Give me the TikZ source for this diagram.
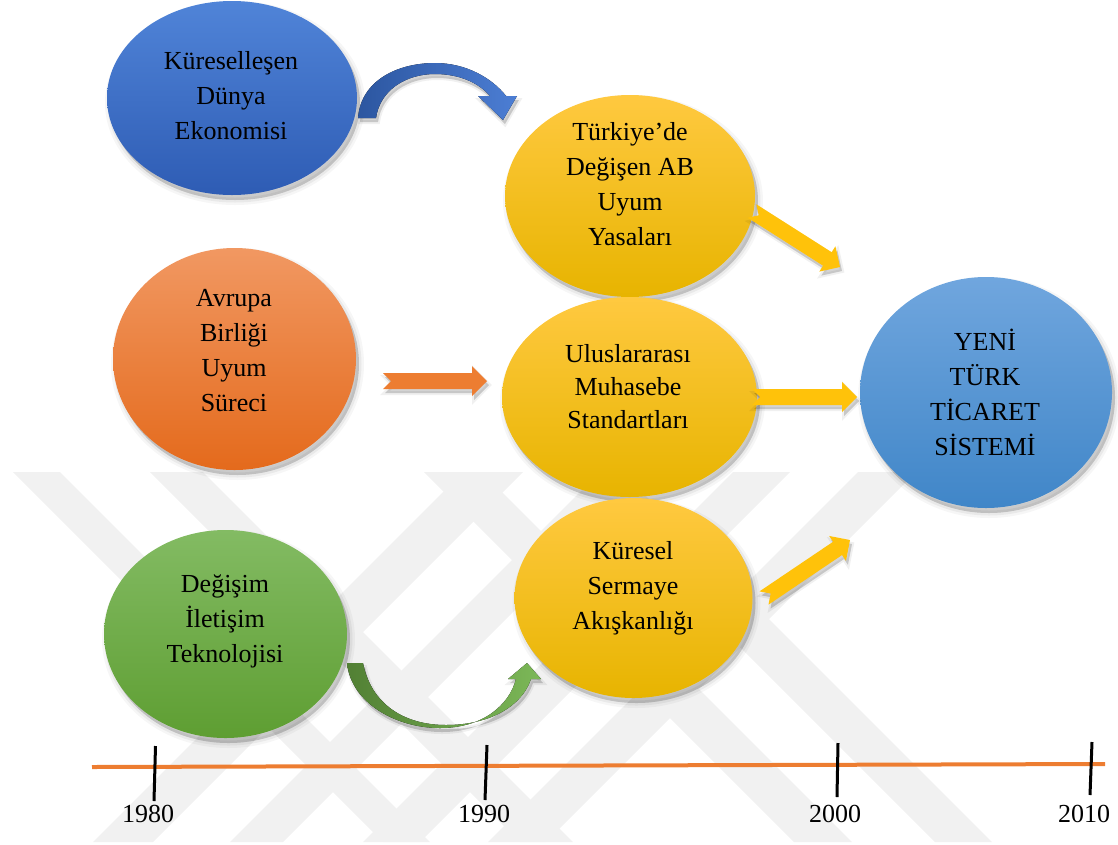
\documentclass[tikz,border=0pt]{standalone}
\usepackage{fontspec}
\setmainfont{Liberation Serif}
\usetikzlibrary{calc,shapes.geometric}

% fills
\definecolor{blueTop}{RGB}{80,132,216}
\definecolor{blueBot}{RGB}{46,92,180}
\definecolor{orangeTop}{RGB}{241,152,98}
\definecolor{orangeBot}{RGB}{228,106,28}
\definecolor{greenTop}{RGB}{131,187,99}
\definecolor{greenBot}{RGB}{94,158,50}
\definecolor{goldTop}{RGB}{255,201,64}
\definecolor{goldMid}{RGB}{255,192,0}
\definecolor{goldBot}{RGB}{231,180,0}
\definecolor{skyTop}{RGB}{112,166,222}
\definecolor{skyBot}{RGB}{64,134,200}
\definecolor{arrowOrange}{RGB}{237,125,49}
\definecolor{arrowGold}{RGB}{255,194,10}
\definecolor{curveBlueA}{RGB}{44,86,160}
\definecolor{curveBlueB}{RGB}{76,126,212}
\definecolor{curveGreenA}{RGB}{82,128,52}
\definecolor{curveGreenB}{RGB}{124,184,88}
\definecolor{axisOrange}{RGB}{237,125,49}
\definecolor{markGray}{RGB}{241,241,241}

% notched block arrow from #1 to #2, drawn with style #3
\newcommand\notcharrow[3]{%
  \path ($(#2)!15pt!(#1)$) coordinate (nb);
  \fill[#3] ($(#1)!8pt!90:(#2)$) -- ($(nb)!8pt!-90:(#1)$) -- ($(nb)!15pt!-90:(#1)$)
     -- (#2) -- ($(nb)!15pt!90:(#1)$) -- ($(nb)!8pt!90:(#1)$)
     -- ($(#1)!8pt!-90:(#2)$) -- ($(#1)!8pt!(#2)$) -- cycle;
}
% background stripe running down-right / down-left
\newcommand\stripeR[2]{\fill[markGray] ({472+(#1)},472) -- ({472+(#2)},472) -- ({842+(#2)},842) -- ({842+(#1)},842) -- cycle;}
\newcommand\stripeL[2]{\fill[markGray] ({(#1)-472},472) -- ({(#2)-472},472) -- ({(#2)-842},842) -- ({(#1)-842},842) -- cycle;}

\begin{document}
\begin{tikzpicture}[x=1pt,y=-1pt,
  softshadow/.style={
    preaction={fill=black,draw=black,line width=10pt,opacity=0.035,transform canvas={xshift=3pt,yshift=-5pt}},
    preaction={fill=black,draw=black,line width=5pt,opacity=0.05,transform canvas={xshift=3pt,yshift=-5pt}},
    preaction={fill=black,opacity=0.10,transform canvas={xshift=3pt,yshift=-5pt}}},
  arrowshadow/.style={
    preaction={fill=black,draw=black,line width=4pt,opacity=0.06,transform canvas={xshift=2pt,yshift=-4pt}},
    preaction={fill=black,opacity=0.12,transform canvas={xshift=2pt,yshift=-4pt}}},
  bubble/.style 2 args={ellipse,inner sep=0pt,minimum width=#1,minimum height=#2,softshadow},
  bluebub/.style={top color=blueTop,bottom color=blueBot},
  orangebub/.style={top color=orangeTop,bottom color=orangeBot},
  greenbub/.style={top color=greenTop,bottom color=greenBot},
  goldbub/.style={top color=goldTop,middle color=goldMid,bottom color=goldBot},
  skybub/.style={top color=skyTop,bottom color=skyBot},
  label/.style={align=center,inner sep=0pt,font=\fontsize{26}{35}\selectfont},
  year/.style={inner sep=0pt,font=\fontsize{26}{30}\selectfont},
  tick/.style={line width=3pt,black},
  orangearrow/.style={fill=arrowOrange,arrowshadow},
  goldarrow/.style={fill=arrowGold,arrowshadow}]

\useasboundingbox (0,0) rectangle (1118,844);

% faint background mark
\stripeR{-459}{-412}
\stripeR{-322}{-269}
\stripeR{-48}{10}
\stripeR{93}{150}
\stripeL{935}{995}
\stripeL{1072}{1125}
\stripeL{1205}{1262}
\stripeL{1330}{1388}

% bubbles
\node[bubble={250}{194},bluebub]   (world)  at (232,98)    {};
\node[bubble={243}{222},orangebub] (eu)     at (234.5,359) {};
\node[bubble={243}{208},greenbub]  (comm)   at (225.5,634) {};
\node[bubble={250}{202},goldbub]   (laws)   at (630,196)   {};
\node[bubble={255}{200},goldbub]   (ias)    at (629.5,397) {};
\node[bubble={238}{200},goldbub]   (capital) at (633.5,598) {};
\node[bubble={252}{231},skybub]    (system) at (986,392.5) {};

% bubble texts
\node[label] (tworld)   at (231,96)  {Küreselleşen\\Dünya\\Ekonomisi};
\node[label] (teu)      at (234,351) {Avrupa\\Birliği\\Uyum\\Süreci};
\node[label] (tcomm)    at (225,621) {Değişim\\İletişim\\Teknolojisi};
\node[label] (tlaws)    at (630,184) {Türkiye’de\\Değişen AB\\Uyum\\Yasaları};
\node[label,font=\fontsize{26}{33}\selectfont] (tias) at (628,387) {Uluslararası\\Muhasebe\\Standartları};
\node[label] (tcapital) at (633,588) {Küresel\\Sermaye\\Akışkanlığı};
\node[label] (tsystem)  at (985,392) {YENİ\\TÜRK\\TİCARET\\SİSTEMİ};

% curved arrows
\fill[left color=curveBlueA,right color=curveBlueB,arrowshadow]
  (358,118) .. controls (361,80) and (398,63) .. (435,63)
  .. controls (466,63) and (492,78) .. (506,96)
  -- (517,96) -- (503,120) -- (478,96) -- (490,96)
  .. controls (478,82) and (458,74) .. (435,74)
  .. controls (406,74) and (380,90) .. (376,118) -- cycle;

\fill[left color=curveGreenA,right color=curveGreenB,arrowshadow]
  (347,663) .. controls (351,703) and (396,728) .. (440,728)
  .. controls (482,728) and (509,706) .. (516,679)
  -- (508,679) -- (527,663) -- (541,679) -- (531,679)
  .. controls (522,706) and (490,725) .. (446,725)
  .. controls (404,725) and (371,704) .. (363,663) -- cycle;

% straight block arrows
\coordinate (o1) at (383,381);  \coordinate (o2) at (487,381);
\coordinate (g1) at (752,211);  \coordinate (g2) at (840,267);
\coordinate (h1) at (752,397);  \coordinate (h2) at (857,397);
\coordinate (k1) at (764,598);  \coordinate (k2) at (850,540);
\notcharrow{o1}{o2}{orangearrow}
\notcharrow{g1}{g2}{goldarrow}
\notcharrow{h1}{h2}{goldarrow}
\notcharrow{k1}{k2}{goldarrow}

% time axis
\coordinate (axisL) at (92,767);
\coordinate (axisR) at (1105,764);
\draw[axisOrange,line width=4pt] (axisL) -- (axisR);
\draw[tick] (155.5,746) -- (154,801);
\draw[tick] (487,745) -- (485,800);
\draw[tick] (838,743) -- (837,797);
\draw[tick] (1092,742) -- (1090,795);
\node[year] (y1980) at (148,814) {1980};
\node[year] (y1990) at (484,814) {1990};
\node[year] (y2000) at (835,814) {2000};
\node[year] (y2010) at (1084,814) {2010};
\end{tikzpicture}
\end{document}
